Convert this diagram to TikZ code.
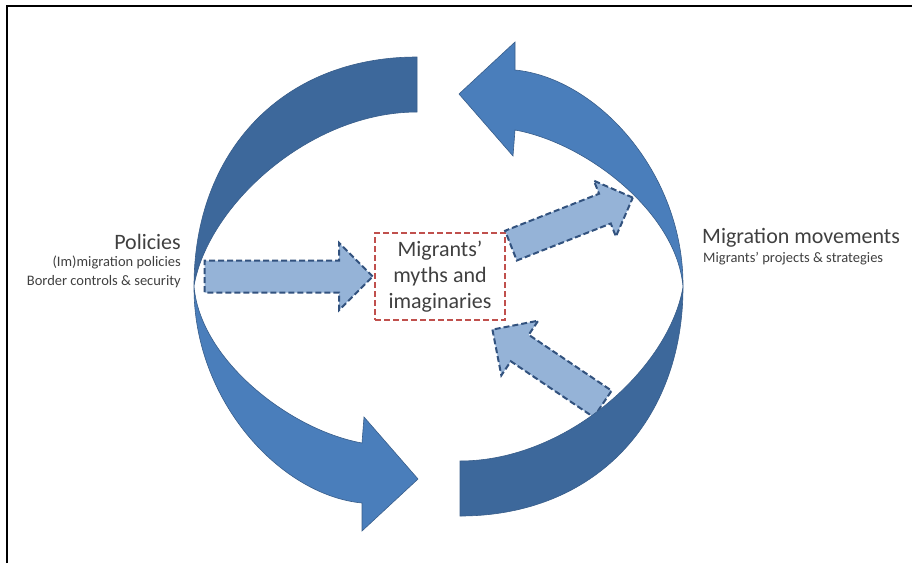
\documentclass[tikz,border=0pt]{standalone}
\usepackage{fontspec}
\setmainfont{Carlito}
\usetikzlibrary{shapes.arrows}

\definecolor{ribbonback}{RGB}{61,104,155}
\definecolor{ribbonfront}{RGB}{74,126,187}
\definecolor{ribbonedge}{RGB}{56,93,138}
\definecolor{pinfill}{RGB}{149,179,215}
\definecolor{pinedge}{RGB}{50,82,126}
\definecolor{mythred}{RGB}{192,80,77}
\definecolor{labelgray}{RGB}{64,64,64}

\begin{document}
\begin{tikzpicture}[x=1pt, y=-1pt]
		\tikzstyle{every node}=[align=center, inner sep=0pt, text=labelgray]
		\tikzstyle{blockarrow}=[single arrow, draw=pinedge, fill=pinfill, line width=2pt, dash pattern=on 6pt off 3pt, text height=15pt, text depth=15pt]
		\tikzstyle{bigtext}=[font=\fontsize{22}{26}\selectfont]
		\tikzstyle{smalltext}=[font=\fontsize{14.5}{18.5}\selectfont]

		\useasboundingbox (0,0) rectangle (912,563);
		\draw [line width=2.4pt] (7,563) -- (7,6) -- (912,6);

		\node [bigtext, draw=mythred, line width=1.8pt, dash pattern=on 6pt off 3pt, minimum width=130pt, minimum height=87pt] (myths) at (440,276.5) {Migrants’\\myths and\\imaginaries};

		\node [blockarrow, anchor=tip, minimum height=168pt, single arrow head extend=17.5pt] (policyarrow) at (myths.west) {};
		\node [blockarrow, anchor=tail, rotate=21.5, minimum height=131pt, single arrow head extend=14pt] (outarrow) at (510,246) {};
		\node [blockarrow, anchor=tail, rotate=146, minimum height=133pt, single arrow head extend=17pt] (backarrow) at (603.5,404.5) {};

		\foreach \turn in {0,180} {
			\begin{scope}[rotate around={\turn:(438.5,286.5)}]
				\filldraw [fill=ribbonback, draw=ribbonedge, line width=0.6pt] (417,57) .. controls (282,57) and (194,152) .. (194,286) .. controls (208,205) and (310,112) .. (417,112) -- cycle;
				\filldraw [fill=ribbonfront, draw=ribbonedge, line width=0.6pt] (194,286) .. controls (193,400) and (280,495) .. (362,503) -- (362,531) -- (418,479) -- (364,417) -- (362,443) .. controls (290,430) and (200,360) .. (194,286) -- cycle;
			\end{scope}
		}

		\node [bigtext, anchor=base east] (policies) at (181,249) {Policies};
		\node [smalltext, anchor=north east, align=right] (policynote) at (181,256) {(Im)migration policies\\Border controls \& security};
		\node [bigtext, anchor=base west] (movements) at (702,243) {Migration movements};
		\node [smalltext, anchor=base west] (movementnote) at (703,262) {Migrants’ projects \& strategies};
	\end{tikzpicture}
\end{document}
